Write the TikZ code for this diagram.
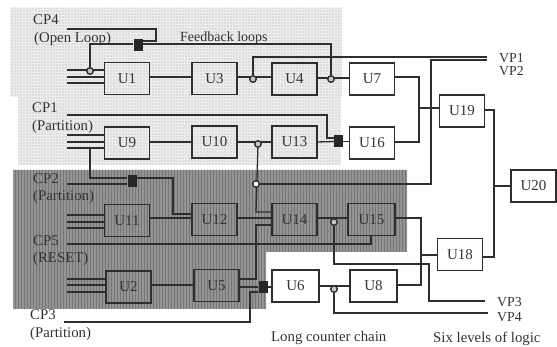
\documentclass[tikz,border=0pt]{standalone}
\usepackage{fontspec}
\setmainfont{Liberation Serif}
\usetikzlibrary{patterns.meta}
\definecolor{ink}{gray}{0.18}
\tikzset{
  x=1pt,y=-1pt,
  wire/.style={draw=ink,line width=1.3pt},
  ubox/.style={draw=ink,line width=1.5pt,minimum width=#1,minimum height=32pt,inner sep=0pt,font=\fontsize{15}{15}\selectfont,text=black!80},
  ubox/.default=45pt,
  lab/.style={font=\fontsize{14.8}{15}\selectfont,text=black!80,inner sep=0pt,anchor=west},
  vplab/.style={lab,font=\fontsize{13.8}{14}\selectfont},
  jn/.style={circle,draw=ink,line width=1.2pt,fill=gray!45,minimum size=6.5pt,inner sep=0pt},
  sq/.style={rectangle,fill=black!85,minimum width=9pt,minimum height=12pt,inner sep=0pt},
  lightzone/.style={fill=gray!14,postaction={pattern={Dots[distance=3pt,radius=0.6pt]},pattern color=gray!65}},
  darkzone/.style={fill=black!42,postaction={pattern={Lines[angle=90,distance=3pt,line width=0.8pt]},pattern color=black!54}}
}
\begin{document}
\begin{tikzpicture}
\useasboundingbox (0,0) rectangle (557,347);
% shaded zones
\path[lightzone] (10,8) rectangle (342,97);
\path[lightzone] (18,97) rectangle (341,165);
\path[darkzone] (13,170) -- (407,170) -- (407,252) -- (266,252) -- (266,309) -- (13,309) -- cycle;
% boxes
\node[ubox] (U1) at (127,78.5) {U1};
\node[ubox] (U3) at (214.5,78.5) {U3};
\node[ubox] (U4) at (294.5,79) {U4};
\node[ubox] (U7) at (372,79) {U7};
\node[ubox] (U9) at (127,143) {U9};
\node[ubox] (U10) at (214.5,142) {U10};
\node[ubox] (U13) at (294.5,142) {U13};
\node[ubox] (U16) at (372,143) {U16};
\node[ubox] (U19) at (462,111) {U19};
\node[ubox] (U20) at (533.5,186) {U20};
\node[ubox] (U11) at (127,220.5) {U11};
\node[ubox] (U12) at (214.5,219.5) {U12};
\node[ubox] (U14) at (294.5,219.5) {U14};
\node[ubox=47pt] (U15) at (371.5,219.5) {U15};
\node[ubox] (U18) at (460,254.5) {U18};
\node[ubox] (U2) at (128.5,287) {U2};
\node[ubox] (U5) at (216.5,285.5) {U5};
\node[ubox=47pt] (U6) at (295.5,286) {U6};
\node[ubox=47pt] (U8) at (373.5,286) {U8};
% junctions and black squares
\node[jn] (j1) at (90,71) {};
\node[jn] (j3) at (253,79) {};
\node[jn] (j4) at (331,79) {};
\node[jn] (j10) at (258,144) {};
\node[jn,fill=white] (j2) at (256,184) {};
\node[jn] (j14) at (334,222) {};
\node[jn] (j6) at (334,289) {};
\node[sq] (s4) at (138,45) {};
\node[sq] (s1) at (338.5,141.5) {};
\node[sq] (s2) at (132,181) {};
\node[sq] (s3) at (263,287) {};
% free ends and bends
\foreach \n/\px/\py in {a1/67/70,a2/67/77,a3/67/83,b1/67/135,b2/67/142,b3/67/148,
  c1/67/215,c2/67/222,c3/67/228,d1/67/279,d2/67/285,d3/67/292,
  cp4/67/29,cp1/67/115,cp2/67/184,cp5/67/244,cp3/64/322,
  vp1/487/57,vp2/487/60,vp3/485/301,vp4/488/313}
  \coordinate (\n) at (\px,\py);
% inputs
\foreach \n/\t in {a1/U1,a2/U1,a3/U1,b1/U9,b2/U9,b3/U9,c1/U11,c2/U11,c3/U11,d1/U2,d2/U2,d3/U2}
  \draw[wire] (\n) -- (\n -| \t.west);
% chain connectors
\draw[wire] (U1.east |- 0,77) -- (U3.west |- 0,77);
\draw[wire] (U3.east |- 0,77) -- (U4.west |- 0,77);
\draw[wire] (U4.east |- 0,78) -- (U7.west |- 0,78);
\draw[wire] (U9.east |- 0,142) -- (U10.west);
\draw[wire] (U10.east) -- (U13.west);
\draw[wire] (U11.east |- 0,218) -- (U12.west |- 0,218);
\draw[wire] (U12.east |- 0,218) -- (U14.west |- 0,218);
\draw[wire] (U14.east |- 0,218) -- (U15.west |- 0,218);
\draw[wire] (U2.east |- 0,285) -- (U5.west |- 0,285);
\draw[wire] (U6.east) -- (U8.west);
% CP4 and feedback
\draw[wire] (cp4) -- (156,29) -- (156,41) -- (s4.east |- 0,41);
\draw[wire] (j1) -- (90,44) -- (s4.west |- 0,44);
\draw[wire] (s4.east |- 0,44) -- (331,44) -- (j4);
% VP1, VP2
\draw[wire] (j3) -- (253,57) -- (vp1);
\draw[wire] (vp2) -- (431,60) -- (431,184) -- (j2);
% CP1
\draw[wire] (cp1) -- (327,115) -- (327,138) -- (s1.west |- 0,138);
\draw[wire] (U13.east) -- (s1.west);
\draw[wire] (s1.east) -- (U16.west |- s1.east);
% outputs
\draw[wire] (U7.east |- 0,77) -- (419,77) -- (419,142) -- (U16.east |- 0,142);
\draw[wire] (419,108) -- (U19.west |- 0,108);
\draw[wire] (U19.east |- 0,110) -- (494,110) -- (494,257) -- (U18.east |- 0,257);
\draw[wire] (494,186) -- (U20.west);
% CP2
\draw[wire] (b3 -| 90,0) -- (90,178) -- (s2.west |- 0,178);
\draw[wire] (cp2) -- (s2.west |- cp2);
\draw[wire] (s2.east |- 0,178) -- (173,178) -- (173,214) -- (U12.west |- 0,214);
% CP5
\draw[wire] (cp5) -- (371,244) -- (U15.south -| 371,0);
% U10/U13 vertical
\draw[wire] (j10) -- (256,212) -- (U14.west |- 0,212);
\draw[wire] (U14.west |- 0,225) -- (256,225) -- (256,279) -- (U5.east |- 0,279);
% U5 to U6, CP3
\draw[wire] (U5.east |- 0,287) -- (s3.west);
\draw[wire] (cp3) -- (250,322) -- (250,292) -- (s3.west |- 0,292);
\draw[wire] (s3.east) -- (U6.west |- s3.east);
% U14/U15 taps
\draw[wire] (j14) -- (334,264) -- (429,264) -- (429,301) -- (vp3);
\draw[wire] (j6) -- (334,313) -- (vp4);
\draw[wire] (U15.east |- 0,218) -- (421,218) -- (421,285) -- (U8.east |- 0,285);
\draw[wire] (421,255) -- (U18.west |- 0,255);
% redraw junctions over wires
\foreach \j/\f in {j1/gray!45,j3/gray!45,j4/gray!45,j10/gray!45,j2/white,j14/gray!45,j6/gray!45}
  \path[draw=ink,line width=1.2pt,fill=\f] (\j) circle[radius=3.2pt];
% texts
\node[lab] (tcp4) at (33,20) {CP4};
\node[lab] (tol) at (34,39) {(Open Loop)};
\node[lab,font=\fontsize{14}{15}\selectfont] (tfb) at (180,38) {Feedback loops};
\node[lab] (tcp1) at (32,108) {CP1};
\node[lab] (tp1) at (32,127) {(Partition)};
\node[lab] (tcp2) at (33,179) {CP2};
\node[lab] (tp2) at (33,197) {(Partition)};
\node[lab] (tcp5) at (33,241) {CP5};
\node[lab] (trs) at (33,259) {(RESET)};
\node[lab] (tcp3) at (30,315) {CP3};
\node[lab] (tp3) at (30,334) {(Partition)};
\node[vplab] (tvp1) at (499,58) {VP1};
\node[vplab] (tvp2) at (499,71) {VP2};
\node[vplab] (tvp3) at (497,302) {VP3};
\node[vplab] (tvp4) at (497,317) {VP4};
\node[lab] (tlc) at (271,338) {Long counter chain};
\node[lab] (tsl) at (433,339) {Six levels of logic};
\end{tikzpicture}
\end{document}
